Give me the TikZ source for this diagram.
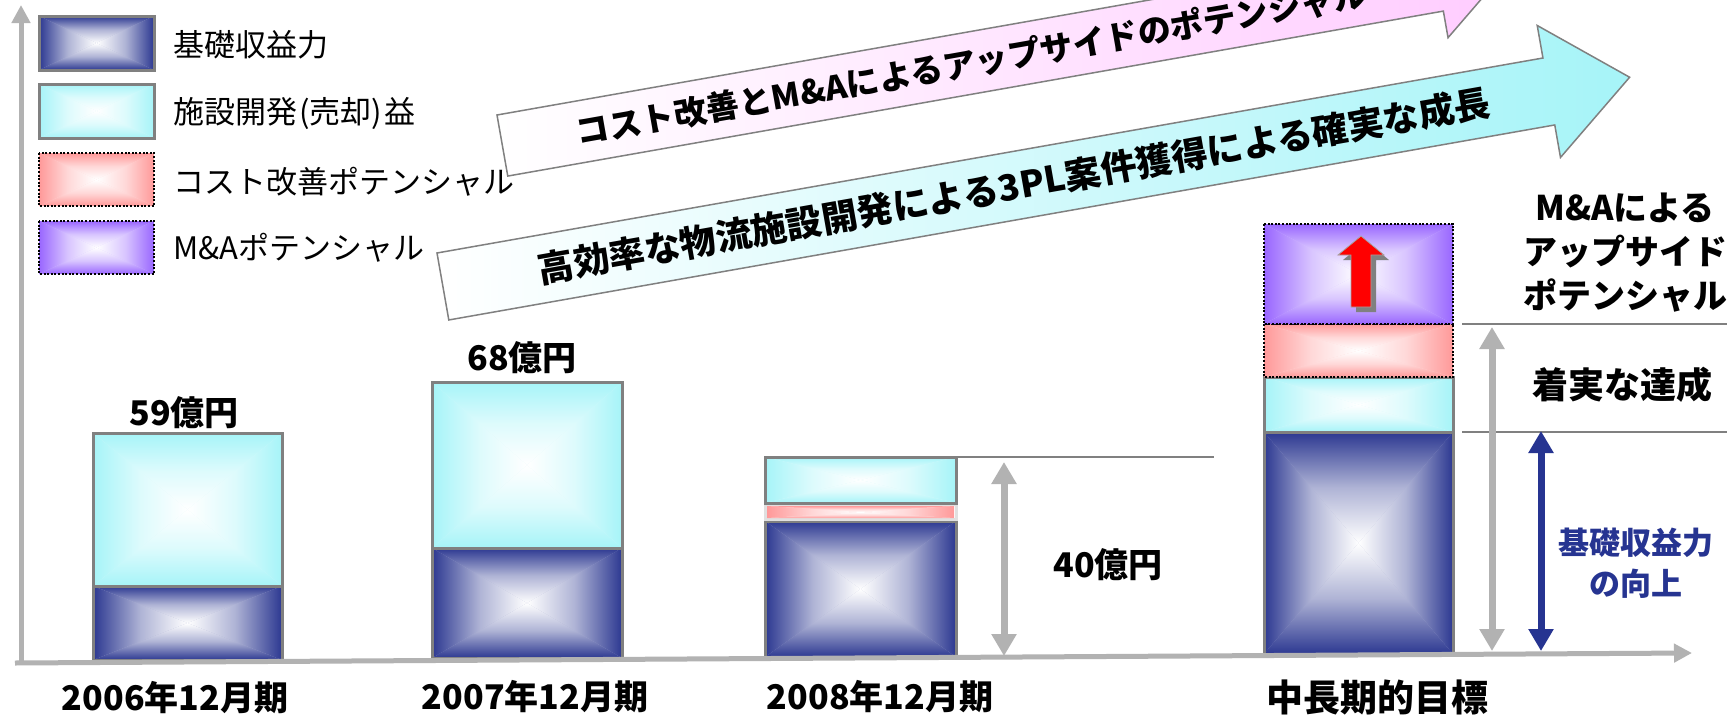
\documentclass[tikz,border=0pt]{standalone}
\usepackage{fontspec}
\setmainfont{Noto Sans CJK JP}
\usetikzlibrary{arrows.meta}
\definecolor{navyc}{RGB}{44,56,145}
\definecolor{cyanc}{RGB}{166,244,248}
\definecolor{pinkc}{RGB}{255,153,153}
\definecolor{purpc}{RGB}{153,102,255}
\definecolor{lavc}{RGB}{255,204,255}
\definecolor{axisgray}{RGB}{178,178,178}
\definecolor{bordergray}{RGB}{128,128,128}
\definecolor{navytext}{RGB}{38,52,145}
\newcommand\gradbox[5]{%
  \pgfmathsetmacro\gcx{(#1+#3)/2}\pgfmathsetmacro\gcy{(#2+#4)/2}%
  \fill[#5!40!white] (#1,#2) rectangle (#3,#4);
  \shade[top color=#5, bottom color=white, middle color=#5!38!white] (#1,#2) -- (#3,#2) -- (\gcx,\gcy) -- cycle;
  \shade[top color=white, bottom color=#5, middle color=#5!38!white] (#1,#4) -- (#3,#4) -- (\gcx,\gcy) -- cycle;
  \shade[left color=#5, right color=white, middle color=#5!38!white] (#1,#2) -- (#1,#4) -- (\gcx,\gcy) -- cycle;
  \shade[left color=white, right color=#5, middle color=#5!38!white] (#3,#2) -- (#3,#4) -- (\gcx,\gcy) -- cycle;
}
\begin{document}
\begin{tikzpicture}[x=1pt,y=-1pt,
  axisline/.style={draw=axisgray, line width=5pt, -{Triangle[width=18pt,length=18pt]}},
  dimarrow/.style={line width=7pt, {Triangle[width=24pt,length=22pt]}-{Triangle[width=24pt,length=22pt]}},
  guide/.style={draw=bordergray, line width=1.5pt},
  solidb/.style={draw=bordergray, line width=3pt},
  dotb/.style={draw=black, line width=1.8pt, dash pattern=on 2pt off 1.6pt},
  lbl/.style={font=\fontsize{34}{40}\selectfont\bfseries, inner sep=0pt},
  leg/.style={font=\fontsize{31}{36}\selectfont, anchor=west, inner sep=0pt},
  bigarrow/.style={draw=bordergray, line width=1.5pt}]
\useasboundingbox (0,0) rectangle (1733,715);
\clip (0,0) rectangle (1733,715);
\fill[white] (0,0) rectangle (1733,715);

% block arrows
\begin{scope}[shift={(437,253)}, rotate=10]
  \shade[bigarrow, left color=white, right color=cyanc]
    (0,0) -- (1123,0) -- (1123,-33) -- (1205,34) -- (1123,101) -- (1123,68) -- (0,68) -- cycle;
  \node[rotate=10, inner sep=0pt, font=\fontsize{36}{42}\selectfont\bfseries] (t2) at (580,34)
    {高効率な物流施設開発による3PL案件獲得による確実な成長};
\end{scope}
\begin{scope}[shift={(497,115)}, rotate=10]
  \shade[bigarrow, left color=white, right color=lavc]
    (0,0) -- (950,0) -- (950,-27) -- (1021,31) -- (950,89) -- (950,62) -- (0,62) -- cycle;
  \node[rotate=10, inner sep=0pt, font=\fontsize{33}{40}\selectfont\bfseries] (t1) at (476,31)
    {コスト改善とM\&Aによるアップサイドのポテンシャル};
\end{scope}

% legend
\gradbox{39}{16}{154}{70}{navyc}
\draw[solidb] (39,16) rectangle (154,70);
\gradbox{39}{84}{154}{138}{cyanc}
\draw[solidb] (39,84) rectangle (154,138);
\gradbox{39}{153}{154}{206}{pinkc}
\draw[dotb] (39,153) rectangle (154,206);
\gradbox{39}{221}{154}{274}{purpc}
\draw[dotb] (39,221) rectangle (154,274);
\node[leg] (lg1) at (173,45) {基礎収益力};
\node[leg] (lg2) at (173,113) {施設開発\kern2pt(売却)\kern2pt益};
\node[leg] (lg3) at (173,182) {コスト改善ポテンシャル};
\node[leg] (lg4) at (173,248) {M\&Aポテンシャル};

% bar 1
\gradbox{93}{586}{282}{660}{navyc}
\draw[solidb] (93,586) rectangle (282,660);
\gradbox{93}{433}{282}{586}{cyanc}
\draw[solidb] (93,433) rectangle (282,586);
% bar 2
\gradbox{432}{548}{622}{658}{navyc}
\draw[solidb] (432,548) rectangle (622,658);
\gradbox{432}{382}{622}{548}{cyanc}
\draw[solidb] (432,382) rectangle (622,548);
% bar 3
\gradbox{765}{521}{956}{657}{navyc}
\draw[solidb] (765,521) rectangle (956,657);
\draw[draw=black!12, line width=3pt] (765,504.5) rectangle (956,519.5);
\gradbox{767}{506}{954}{518}{pinkc}
\gradbox{765}{457}{956}{503}{cyanc}
\draw[solidb] (765,457) rectangle (956,503);
% bar 4
\gradbox{1264}{432}{1453}{654}{navyc}
\draw[solidb] (1264,432) rectangle (1453,654);
\gradbox{1264}{377}{1453}{432}{cyanc}
\draw[solidb] (1264,377) rectangle (1453,432);
\gradbox{1264}{324}{1453}{377}{pinkc}
\draw[dotb] (1264,324) rectangle (1453,377);
\gradbox{1264}{224}{1453}{324}{purpc}
\draw[dotb] (1264,224) rectangle (1453,324);

% red arrow with shadow
\fill[bordergray, shift={(5,5)}] (1361,236) -- (1384,255) -- (1371,255) -- (1371,307) -- (1351,307) -- (1351,255) -- (1338,255) -- cycle;
\fill[red, draw=black!35, line width=0.8pt] (1361,236) -- (1384,255) -- (1371,255) -- (1371,307) -- (1351,307) -- (1351,255) -- (1338,255) -- cycle;

% axes
\coordinate (xo) at (15,663);
\coordinate (xe) at (1692,653);
\coordinate (yo) at (21,665);
\coordinate (ye) at (21,5);
\draw[axisline] (xo) -- (xe);
\draw[axisline] (yo) -- (ye);

% guide lines
\coordinate (g1a) at (956,457); \coordinate (g1b) at (1214,457);
\coordinate (g2a) at (1462,324); \coordinate (g2b) at (1727,324);
\coordinate (g3a) at (1462,432); \coordinate (g3b) at (1727,432);
\draw[guide] (g1a) -- (g1b);
\draw[guide] (g2a) -- (g2b);
\draw[guide] (g3a) -- (g3b);

% dimension arrows
\coordinate (d1t) at (1004,462); \coordinate (d1b) at (1004,656);
\coordinate (d2t) at (1492,327); \coordinate (d2b) at (1492,651);
\coordinate (d3t) at (1541,431); \coordinate (d3b) at (1541,651);
\draw[dimarrow, draw=axisgray, fill=axisgray] (d1t) -- (d1b);
\draw[dimarrow, draw=axisgray, fill=axisgray] (d2t) -- (d2b);
\draw[dimarrow, draw=navytext, fill=navytext] (d3t) -- (d3b);

% labels
\node[lbl] (v59) at (184,413) {59億円};
\node[lbl] (v68) at (522,358) {68億円};
\node[lbl] (v40) at (1108,565) {40億円};
\node[lbl] (y06) at (175,698) {2006年12月期};
\node[lbl] (y07) at (535,697) {2007年12月期};
\node[lbl] (y08) at (880,697) {2008年12月期};
\node[lbl, font=\fontsize{37}{44}\selectfont\bfseries] (goal) at (1377,697) {中長期的目標};
\node[lbl, align=center, font=\fontsize{34}{44}\selectfont\bfseries] (ma) at (1625,253) {M\&Aによる\\アップサイド\\ポテンシャル};
\node[lbl, font=\fontsize{36}{44}\selectfont\bfseries] (steady) at (1622,385) {着実な達成};
\node[lbl, align=center, text=navytext, font=\fontsize{31}{41}\selectfont\bfseries] (base) at (1636,563) {基礎収益力\\の向上};
\end{tikzpicture}
\end{document}
